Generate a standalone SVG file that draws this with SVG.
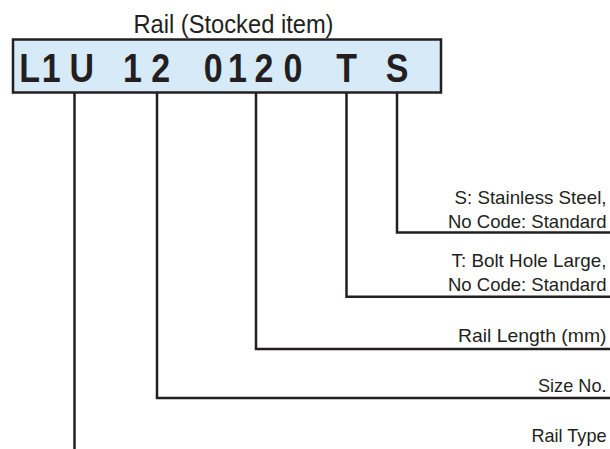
<svg xmlns="http://www.w3.org/2000/svg" width="610" height="449" viewBox="0 0 610 449">
<style>
.t{font-family:"Liberation Sans",Arial,sans-serif;fill:#231f20}
.lbl{font-size:18.5px;text-anchor:end}
.code{font-size:40px;font-weight:bold;text-anchor:middle}
.conn{fill:none;stroke:#231f20;stroke-width:2.5;stroke-linejoin:miter}
</style>
<rect width="610" height="449" fill="#ffffff"/>
<g id="part-number">
<text class="t" x="133.5" y="33" font-size="25.5" textLength="200" lengthAdjust="spacingAndGlyphs">Rail (Stocked item)</text>
<rect x="13" y="39.5" width="428" height="53" fill="#d6eaf8" stroke="#231f20" stroke-width="2.5"/>
<text class="t code" transform="scale(0.85 1)" y="81.7" x="34.94 60.35 96.12 125.88 155.88 189.18 220 250.94 279.41 310.59 344.71 376.47 407.88 437.65 467.06">L1U 12 0120 T S</text>
</g>
<g id="connectors">
<path class="conn" d="M397 93 V232.5 H610"/>
<path class="conn" d="M346.5 93 V296.7 H610"/>
<path class="conn" d="M256 93 V349 H610"/>
<path class="conn" d="M157 93 V398 H610"/>
<path class="conn" d="M74.5 93 V449"/>
</g>
<g id="label-material">
<text class="t lbl" x="606.5" y="204" textLength="152" lengthAdjust="spacingAndGlyphs">S: Stainless Steel,</text>
<text class="t lbl" x="606.5" y="228" textLength="158.5" lengthAdjust="spacingAndGlyphs">No Code: Standard</text>
</g>
<g id="label-bolt-hole">
<text class="t lbl" x="606.5" y="266.5" textLength="155" lengthAdjust="spacingAndGlyphs">T: Bolt Hole Large,</text>
<text class="t lbl" x="606.5" y="290.5" textLength="158.5" lengthAdjust="spacingAndGlyphs">No Code: Standard</text>
</g>
<g id="label-length">
<text class="t lbl" x="606.5" y="341.7" textLength="148.5" lengthAdjust="spacingAndGlyphs">Rail Length (mm)</text>
</g>
<g id="label-size">
<text class="t lbl" x="606.5" y="391.7" textLength="68.5" lengthAdjust="spacingAndGlyphs">Size No.</text>
</g>
<g id="label-type">
<text class="t lbl" x="606.5" y="441.7" textLength="75" lengthAdjust="spacingAndGlyphs">Rail Type</text>
</g>
</svg>
